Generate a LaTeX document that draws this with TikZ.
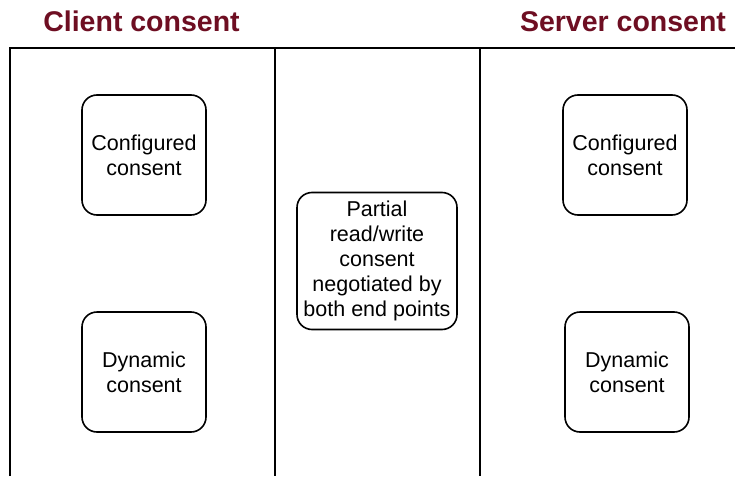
\documentclass[tikz,border=0pt]{standalone}
\usepackage{fontspec}
\setmainfont{Liberation Sans}
\definecolor{titlered}{HTML}{6E0E22}

\begin{document}
\begin{tikzpicture}[x=1pt,y=-1pt,
  consent/.style={draw,line width=1.6pt,rounded corners=15pt,align=center,
    minimum width=124pt,minimum height=120pt,inner sep=0pt,
    font=\fontsize{21.5}{25}\selectfont},
  title/.style={anchor=base,text=titlered,font=\fontsize{28.5}{30}\selectfont\bfseries},
  lane/.style={line width=2pt}]
  \useasboundingbox (0,0) rectangle (735,476);

  % swim lanes
  \coordinate (tl) at (10,48);
  \coordinate (tr) at (735,48);
  \draw[lane] (10,476) -- (tl) -- (tr);
  \draw[lane] (275,48) -- (275,476);
  \draw[lane] (480,48) -- (480,476);

  \node[title] (client) at (141.5,32) {Client consent};
  \node[title] (server) at (623,32) {Server consent};

  \node[consent] (cconf) at (144,155) {Configured\\consent};
  \node[consent] (cdyn) at (144,372) {Dynamic\\consent};
  \node[consent,minimum width=160pt,minimum height=137pt] (partial) at (377,261)
    {Partial\\read/write\\consent\\negotiated by\\both end points};
  \node[consent] (sconf) at (625,155) {Configured\\consent};
  \node[consent] (sdyn) at (627,372) {Dynamic\\consent};
\end{tikzpicture}
\end{document}
